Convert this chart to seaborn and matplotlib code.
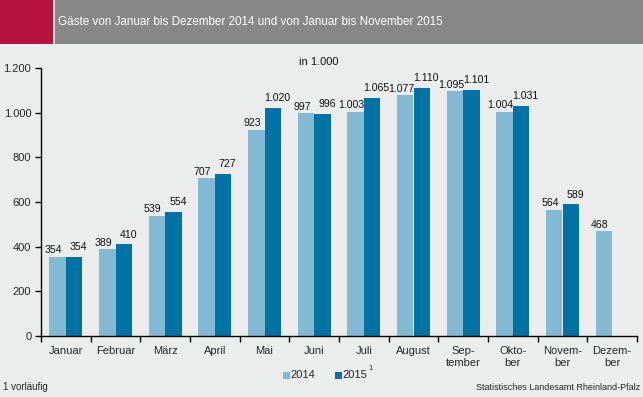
import matplotlib
matplotlib.use("Agg")
import matplotlib.pyplot as plt
import seaborn as sns
import pandas as pd
import numpy as np
from matplotlib.patches import Rectangle
from matplotlib.ticker import FixedLocator

months = ["Januar", "Februar", "März", "April", "Mai", "Juni", "Juli", "August",
          "Sep-\ntember", "Okto-\nber", "Novem-\nber", "Dezem-\nber"]
v2014 = [354, 389, 539, 707, 923, 997, 1003, 1077, 1095, 1004, 564, 468]
v2015 = [354, 410, 554, 727, 1020, 996, 1065, 1110, 1101, 1031, 589, np.nan]
yticks = [0, 200, 400, 600, 800, 1000, 1200]

BG = "#EBEDED"
C14 = "#84B9D4"
C15 = "#0072A3"

df = pd.DataFrame({
    "Monat": months * 2,
    "Jahr": ["2014"] * 12 + ["2015"] * 12,
    "Wert": v2014 + v2015,
})

sns.set_theme(style="white")
plt.rcParams["font.family"] = ["Liberation Sans", "DejaVu Sans"]

fig = plt.figure(figsize=(6.43, 3.97), dpi=100, facecolor=BG)
ax = fig.add_axes([41/643, 1 - 336/397, (637-41)/643, (336-68)/397])
ax.set_facecolor(BG)

sns.barplot(data=df, x="Monat", y="Wert", hue="Jahr", order=months,
            palette={"2014": C14, "2015": C15}, width=0.67, gap=0,
            saturation=1, ax=ax, legend=False, errorbar=None, linewidth=0)

def de(v):
    return f"{int(v):,}".replace(",", ".")

xshift = [-0.08, 0.09]
yshift = [7, 22]
for ci, cont in enumerate(ax.containers):
    for bar in cont:
        h = bar.get_height()
        if np.isnan(h) or h == 0:
            continue
        ax.text(bar.get_x() + bar.get_width()/2 + xshift[ci], h + yshift[ci], de(h),
                ha="center", va="bottom", fontsize=7.6, color="#111111")

ax.set_ylim(0, 1200)
ax.set_xlim(-0.5, 11.5)
ax.set_yticks(yticks)
ax.set_yticklabels([de(t) for t in yticks], fontsize=8)
ax.set_xticks(range(12))
ax.set_xticklabels(months, fontsize=8, linespacing=1.3)
ax.tick_params(axis="x", which="major", length=0, pad=7)
ax.xaxis.set_minor_locator(FixedLocator(np.arange(-0.5, 12, 1)))
ax.tick_params(axis="x", which="minor", length=4, width=1, color="black", direction="out", bottom=True)
ax.tick_params(axis="y", length=4, width=1, color="black", direction="out", left=True, pad=3)
ax.set_xlabel("")
ax.set_ylabel("")
for s in ["top", "right"]:
    ax.spines[s].set_visible(False)
for s in ["left", "bottom"]:
    ax.spines[s].set_color("black")
    ax.spines[s].set_linewidth(1)
ax.grid(False)

fig.text(319/643, 1 - 62/397, "in 1.000", ha="center", va="center", fontsize=8, color="#111111")

# header
fig.patches.append(Rectangle((0, 1 - 44/397), 53/643, 44/397, transform=fig.transFigure,
                             facecolor="#B5123E", edgecolor="none"))
fig.patches.append(Rectangle((55/643, 1 - 44/397), 1 - 55/643, 44/397, transform=fig.transFigure,
                             facecolor="#878787", edgecolor="none"))
fig.text(58/643, 1 - 22/397, "Gäste von Januar bis Dezember 2014 und von Januar bis November 2015",
         color="white", fontsize=8.4, va="center", ha="left")

# legend
fig.patches.append(Rectangle((283/643, 1 - 379/397), 7/643, 7/397, transform=fig.transFigure,
                             facecolor=C14, edgecolor="none"))
fig.text(290/643, 1 - 375/397, "2014", fontsize=8, va="center", ha="left")
fig.patches.append(Rectangle((335/643, 1 - 379/397), 7/643, 7/397, transform=fig.transFigure,
                             facecolor=C15, edgecolor="none"))
fig.text(342/643, 1 - 375/397, "2015", fontsize=8, va="center", ha="left")
fig.text(368/643, 1 - 368/397, "1", fontsize=5.5, va="center", ha="left")

fig.text(3/643, 1 - 387/397, "1 vorläufig", fontsize=7, va="center", ha="left")
fig.text(640/643, 1 - 387/397, "Statistisches Landesamt Rheinland-Pfalz", fontsize=6.5, va="center", ha="right")

fig.savefig("out.png", dpi=100, facecolor=BG)
